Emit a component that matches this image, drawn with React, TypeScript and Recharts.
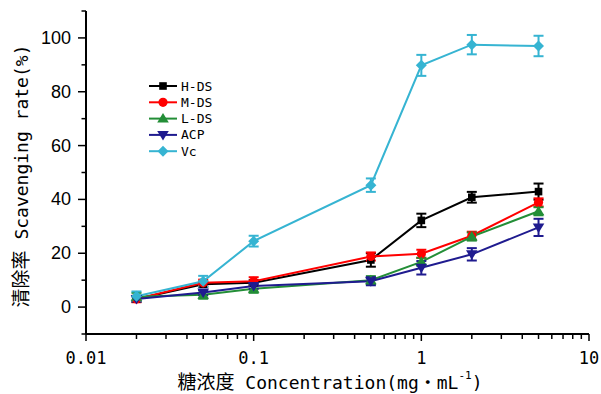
import React from "react";
import { ErrorBar, Legend, Line, LineChart, XAxis, YAxis } from "recharts";

// concentration (mg/mL) and scavenging rate (%) with SD
const conc = [0.02, 0.05, 0.1, 0.5, 1, 2, 5];
const hds = [3.0, 8.5, 9.0, 17.5, 32.2, 40.8, 42.9];
const hdsErr = [1, 1, 1, 2.5, 2.5, 2, 3];
const mds = [3.0, 9.0, 9.6, 18.8, 19.8, 26.5, 38.9];
const mdsErr = [1.2, 1.2, 1.5, 1.5, 1.5, 1.5, 1.5];
const lds = [3.8, 4.6, 6.8, 10.0, 16.8, 26.2, 35.6];
const ldsErr = [1.5, 1.5, 1.5, 1.5, 1.5, 1.5, 1.5];
const acp = [3.0, 5.4, 7.8, 9.6, 14.6, 19.6, 29.6];
const acpErr = [1, 1, 1, 1.5, 2.5, 2.3, 3.2];
const vc = [4.0, 9.6, 24.5, 45.3, 89.8, 97.5, 97.0];
const vcErr = [1.8, 2, 2, 2.5, 3.9, 3.6, 3.8];

const xTicks = [
  0.01, 0.02, 0.03, 0.04, 0.05, 0.06, 0.07, 0.08, 0.09,
  0.1, 0.2, 0.3, 0.4, 0.5, 0.6, 0.7, 0.8, 0.9,
  1, 2, 3, 4, 5, 6, 7, 8, 9, 10,
];
const xLabels: Record<string, string> = { "0.01": "0.01", "0.1": "0.1", "1": "1", "10": "10" };
const yTicks = [-10, 0, 10, 20, 30, 40, 50, 60, 70, 80, 90, 100, 110];
const yLabels = [0, 20, 40, 60, 80, 100];

type Shape = "square" | "circle" | "up" | "down" | "diamond";

const series: { key: string; name: string; color: string; shape: Shape }[] = [
  { key: "hds", name: "H-DS", color: "#000000", shape: "square" },
  { key: "mds", name: "M-DS", color: "#ff0000", shape: "circle" },
  { key: "lds", name: "L-DS", color: "#238e37", shape: "up" },
  { key: "acp", name: "ACP", color: "#1f1b8f", shape: "down" },
  { key: "vc", name: "Vc", color: "#36b4d2", shape: "diamond" },
];

const data = conc.map((x, i) => ({
  x,
  hds: hds[i],
  hdsErr: hdsErr[i],
  mds: mds[i],
  mdsErr: mdsErr[i],
  lds: lds[i],
  ldsErr: ldsErr[i],
  acp: acp[i],
  acpErr: acpErr[i],
  vc: vc[i],
  vcErr: vcErr[i],
}));

const MONO = "'DejaVu Sans Mono', 'Noto Sans CJK SC', monospace";
const SANS = "'Liberation Sans', Arial, sans-serif";

function Marker({ cx, cy, shape, color }: { cx: number; cy: number; shape: Shape; color: string }) {
  switch (shape) {
    case "square":
      return <rect x={cx - 3.8} y={cy - 3.8} width={7.6} height={7.6} fill={color} />;
    case "circle":
      return <circle cx={cx} cy={cy} r={4.6} fill={color} />;
    case "up":
      return <polygon points={`${cx},${cy - 5.5} ${cx + 5.8},${cy + 4} ${cx - 5.8},${cy + 4}`} fill={color} />;
    case "down":
      return <polygon points={`${cx},${cy + 5.5} ${cx + 5.8},${cy - 4} ${cx - 5.8},${cy - 4}`} fill={color} />;
    default:
      return <polygon points={`${cx},${cy - 5.5} ${cx + 5.5},${cy} ${cx},${cy + 5.5} ${cx - 5.5},${cy}`} fill={color} />;
  }
}

const XTick = (props: any) => {
  const { x, y, payload } = props;
  const label = xLabels[String(payload.value)];
  return (
    <g>
      <line x1={x} x2={x} y1={y} y2={y + (label ? 7 : 5)} stroke="#000" strokeWidth={1.5} />
      {label && (
        <text x={x} y={y + 24} textAnchor="middle" dominantBaseline="central" fontFamily={MONO} fontSize={17} fill="#000">
          {label}
        </text>
      )}
    </g>
  );
};

const YTick = (props: any) => {
  const { x, y, payload } = props;
  const major = yLabels.includes(payload.value);
  return (
    <g>
      <line x1={x - (major ? 8 : 4.5)} x2={x} y1={y} y2={y} stroke="#000" strokeWidth={1.5} />
      {major && (
        <text x={x - 15} y={y} textAnchor="end" dominantBaseline="central" fontFamily={SANS} fontSize={18} fill="#000">
          {payload.value}
        </text>
      )}
    </g>
  );
};

const YTitle = () => (
  <text
    x={21}
    y={176}
    transform="rotate(-90 21 176)"
    textAnchor="middle"
    dominantBaseline="central"
    fontFamily={MONO}
    fontSize={18}
    fill="#000"
  >
    <tspan fontSize={19}>清除率</tspan> Scavenging rate(%)
  </text>
);

const XTitle = () => (
  <text x={330} y={382} textAnchor="middle" dominantBaseline="central" fontFamily={MONO} fontSize={18} fill="#000">
    <tspan fontSize={19}>糖浓度</tspan> Concentration(mg・mL
    <tspan fontSize={11} dy={-7}>-1</tspan>
    <tspan dy={7}>)</tspan>
  </text>
);

const LegendBox = () => (
  <svg width={90} height={80}>
    {series.map((s, i) => {
      const cy = 7 + i * 16.3;
      return (
        <g key={s.key}>
          <line x1={4} x2={32} y1={cy} y2={cy} stroke={s.color} strokeWidth={2} />
          <Marker cx={18} cy={cy} shape={s.shape} color={s.color} />
          <text x={36} y={cy} dominantBaseline="central" fontFamily={MONO} fontSize={13} fill="#000">
            {s.name}
          </text>
        </g>
      );
    })}
  </svg>
);

export default function App() {
  return (
    <div style={{ position: "absolute", left: 0, top: 0, width: 601, height: 394, background: "#fff" }}>
      <LineChart width={601} height={394} data={data} margin={{ top: 11, right: 12, bottom: 0, left: 0 }}>
        <XAxis
          dataKey="x"
          type="number"
          scale="log"
          domain={[0.01, 10]}
          allowDataOverflow
          ticks={xTicks}
          interval={0}
          tick={<XTick />}
          tickLine={false}
          tickSize={0}
          tickMargin={0}
          height={60}
          axisLine={{ stroke: "#000", strokeWidth: 2 }}
          label={{ content: XTitle }}
        />
        <YAxis
          type="number"
          domain={[-10, 110]}
          ticks={yTicks}
          interval={0}
          tick={<YTick />}
          tickLine={false}
          tickSize={0}
          tickMargin={0}
          width={86}
          axisLine={{ stroke: "#000", strokeWidth: 2 }}
          label={{ content: YTitle }}
        />
        <Legend
          layout="vertical"
          align="center"
          verticalAlign="middle"
          content={<LegendBox />}
          wrapperStyle={{ position: "absolute", left: 145, top: 79, width: 90, height: 80 }}
        />
        {series.map((s) => (
          <Line
            key={s.key}
            dataKey={s.key}
            name={s.name}
            stroke={s.color}
            strokeWidth={2}
            isAnimationActive={false}
            dot={(p: any) => <Marker key={`${s.key}-${p.index}`} cx={p.cx} cy={p.cy} shape={s.shape} color={s.color} />}
            activeDot={false}
          >
            <ErrorBar dataKey={`${s.key}Err`} direction="y" width={5} stroke={s.color} strokeWidth={2} isAnimationActive={false} />
          </Line>
        ))}
      </LineChart>
    </div>
  );
}
